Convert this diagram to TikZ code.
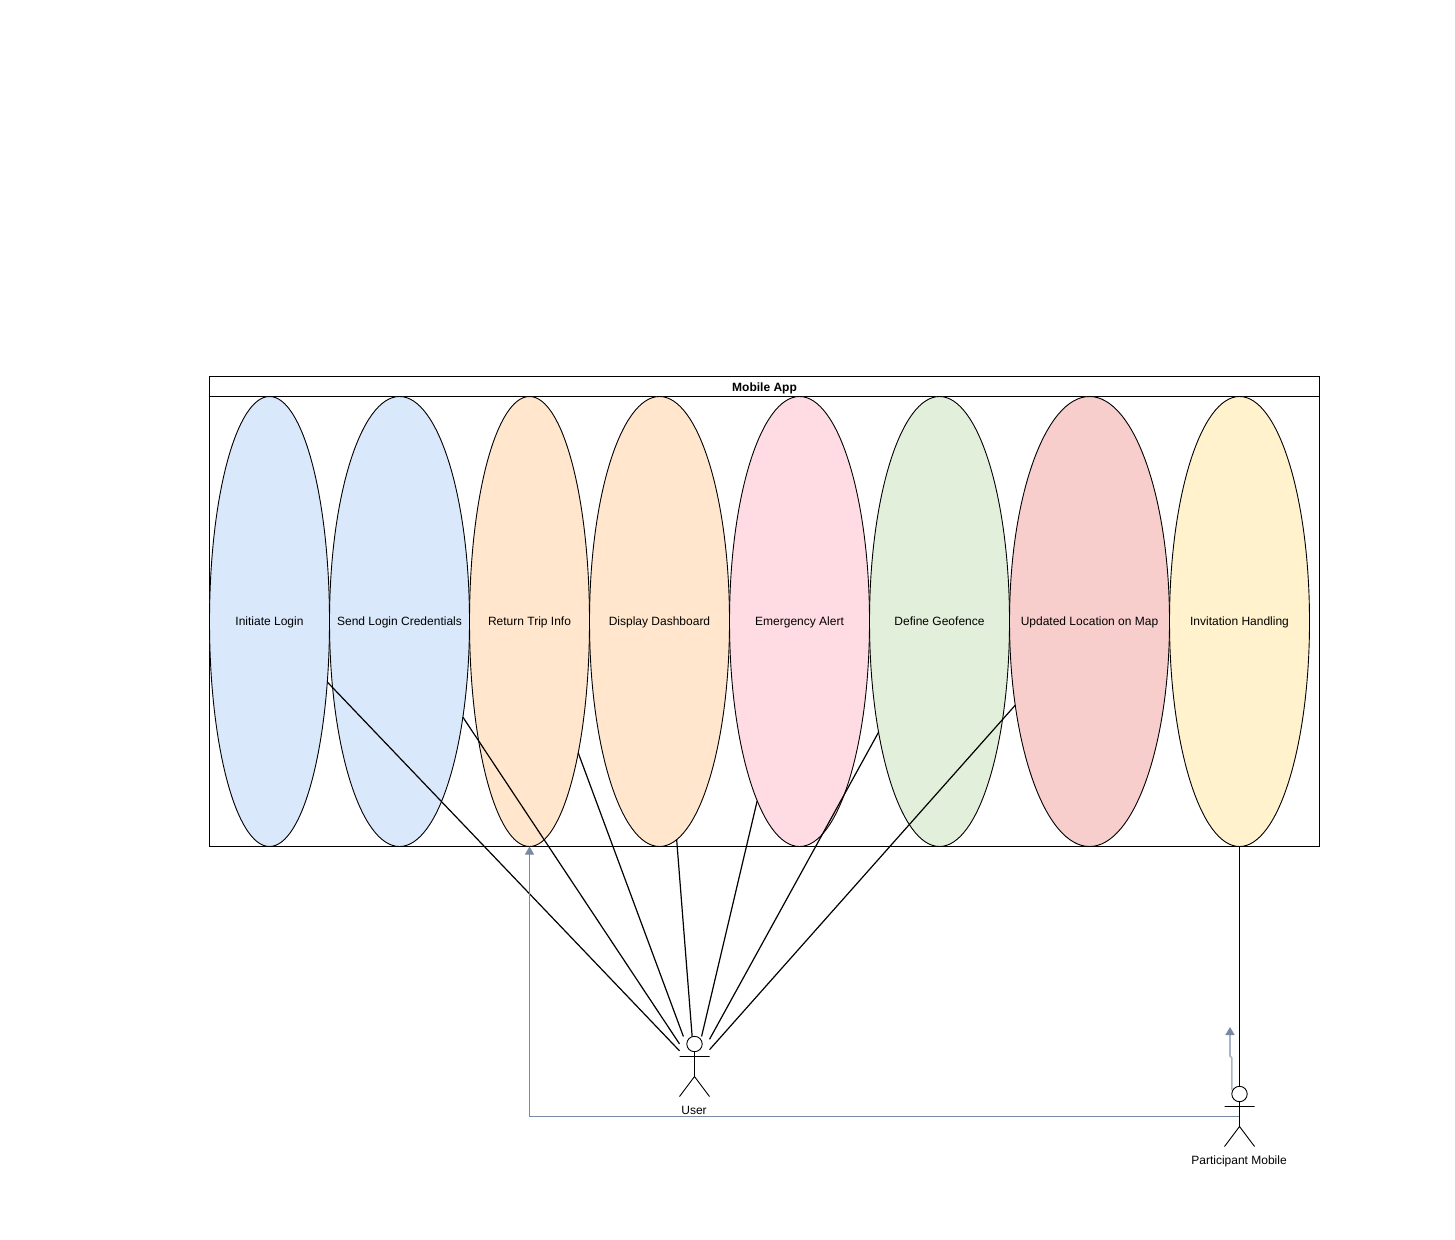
\documentclass[tikz,border=0pt]{standalone}
\usepackage{fontspec}
\setmainfont{Liberation Sans}
\usetikzlibrary{shapes.geometric,arrows.meta}
\definecolor{cblue}{HTML}{DAE8FC}
\definecolor{corange}{HTML}{FFE6CC}
\definecolor{cpink}{HTML}{FFDCE3}
\definecolor{cgreen}{HTML}{E2EFDA}
\definecolor{cred}{HTML}{F8CECC}
\definecolor{cyellow}{HTML}{FFF2CC}
\definecolor{cflow}{HTML}{788AA3}
\definecolor{cflowlight}{HTML}{A9B5C6}
\tikzset{
  x=1pt,y=-1pt,
  every node/.style={font=\fontsize{12}{14}\selectfont,text=black},
  usecase/.style={ellipse,draw=black,line width=0.9pt,inner sep=0pt,outer sep=0pt,minimum height=450pt},
  frame/.style={draw=black,line width=0.9pt,fill=none},
  link/.style={draw=black,line width=1.2pt},
  flow/.style={draw=cflow,line width=0.9pt,-{Triangle[length=8pt,width=9pt]}},
  flowlight/.style={draw=cflowlight,line width=1.6pt,-{Triangle[length=8pt,width=9pt,color=cflow]}},
  actorbox/.style={rectangle,draw=none,inner sep=0pt,outer sep=0pt,minimum width=30pt,minimum height=60pt},
  actorlabel/.style={inner sep=0pt},
  pics/actorfig/.style={code={
    \draw[line width=0.9pt,black,fill=white] (0,-22.5) circle[radius=7.7pt];
    \draw[line width=0.9pt,black] (0,-15) -- (0,10) (-15,-10) -- (15,-10) (-15,30) -- (0,10) -- (15,30);
  }}
}
\newcommand{\ulabel}[1]{\makebox[0pt]{\raisebox{-4pt}[0pt][0pt]{#1}}}
\begin{document}
\begin{tikzpicture}
\useasboundingbox[fill=white] (0,0) rectangle (1455,1239);

\node[rectangle,draw=black,line width=0.9pt,minimum width=1110pt,minimum height=470pt,inner sep=0pt,outer sep=0pt] (app) at (764.5,611.5) {};
\node[rectangle,draw=black,line width=0.9pt,minimum width=1110pt,minimum height=20pt,inner sep=0pt,outer sep=0pt,font=\fontsize{12}{14}\selectfont\bfseries] (title) at (764.5,386.5) {\raisebox{-5pt}[0pt][0pt]{Mobile App}};

\node[usecase,fill=cblue,minimum width=120pt] (e1) at (269.5,621.5) {\ulabel{Initiate Login}};
\node[usecase,fill=cblue,minimum width=140pt] (e2) at (399.5,621.5) {\ulabel{Send Login Credentials}};
\node[usecase,fill=corange,minimum width=120pt] (e3) at (529.5,621.5) {\ulabel{Return Trip Info}};
\node[usecase,fill=corange,minimum width=140pt] (e4) at (659.5,621.5) {\ulabel{Display Dashboard}};
\node[usecase,fill=cpink,minimum width=140pt] (e5) at (799.5,621.5) {\ulabel{Emergency Alert}};
\node[usecase,fill=cgreen,minimum width=140pt] (e6) at (939.5,621.5) {\ulabel{Define Geofence}};
\node[usecase,fill=cred,minimum width=160pt] (e7) at (1089.5,621.5) {\ulabel{Updated Location on Map}};
\node[usecase,fill=cyellow,minimum width=140pt] (e8) at (1239.5,621.5) {\ulabel{Invitation Handling}};

\draw[frame] (app.south west) -- (app.south east);

\node[actorbox] (user) at (694.5,1066.5) {};
\pic at (user.center) {actorfig};
\node[actorlabel] (userlabel) at (694,1110) {User};

\node[actorbox] (part) at (1239.5,1116.5) {};
\node[actorlabel] (partlabel) at (1239,1161.5) {Participant Mobile};

\foreach \n in {e1,e2,e3,e4,e5,e6,e7}{\draw[link] (\n) -- (user);}
\draw[link,line width=0.9pt] (e8) -- (part);

\coordinate (flowstart) at (1231.8,1090);
\coordinate (flowbend) at (1231.8,1058);
\coordinate (flowjog) at (1230,1056);
\coordinate (flowend) at (1230,1027);
\draw[flowlight] (flowstart) -- (flowbend) -- (flowjog) -- (flowend);
\draw[flow] (part.center) -| (e3.south);
\pic at (part.center) {actorfig};
\end{tikzpicture}
\end{document}
